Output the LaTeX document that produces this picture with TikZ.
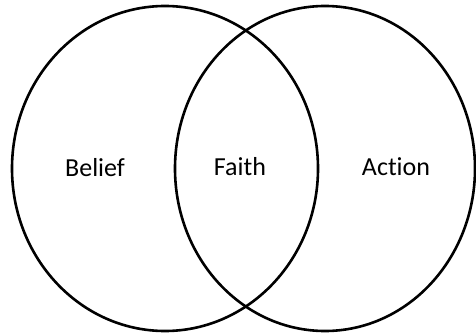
\documentclass[tikz,border=0pt]{standalone}
\usepackage{fontspec}
\setmainfont{Carlito}[Ligatures=NoCommon]
\usetikzlibrary{shapes.geometric}
\begin{document}
\begin{tikzpicture}[x=1pt,y=-1pt,
  setshape/.style={draw=black, line width=2.6pt, ellipse, inner sep=0pt, outer sep=0pt},
  lbl/.style={font=\fontsize{26}{30}\selectfont, anchor=base, inner sep=0pt}]
\useasboundingbox (0,0) rectangle (476,334);
\node[setshape, minimum width=306pt, minimum height=325pt] (left) at (165,168.5) {};
\node[setshape, minimum width=300pt, minimum height=325pt] (right) at (325,168.5) {};
\node[lbl] (belief) at (95,176.5) {Belief};
\node[lbl] (faith) at (240,175.5) {Faith};
\node[lbl] (action) at (396,175) {Action};
\end{tikzpicture}
\end{document}
